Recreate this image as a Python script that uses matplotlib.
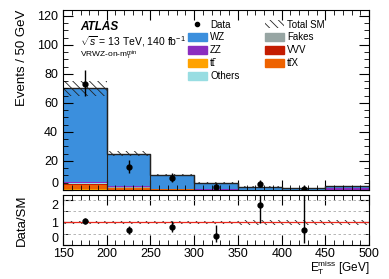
import matplotlib
matplotlib.use("Agg")
import matplotlib.pyplot as plt
import numpy as np
from matplotlib.patches import Patch
from matplotlib.lines import Line2D

plt.rcParams['font.family'] = ['Liberation Sans', 'DejaVu Sans']
plt.rcParams['mathtext.fontset'] = 'custom'
plt.rcParams['mathtext.rm'] = 'Liberation Sans'
plt.rcParams['mathtext.it'] = 'Liberation Sans:italic'
plt.rcParams['hatch.linewidth'] = 0.6

# binning (GeV)
bin_edges = [150, 200, 250, 300, 350, 400, 450, 500]
bin_centers = [175, 225, 275, 325, 375, 425, 475]

# stacked backgrounds, bottom to top
ttbar = [0.5, 0.2, 0.1, 0.05, 0.02, 0.02, 0.02]
ttX = [2.8, 1.2, 0.3, 0.1, 0.05, 0.03, 0.05]
vvv = [0.7, 0.3, 0.1, 0.05, 0.03, 0.02, 0.05]
fakes = [0.3, 0.4, 0.1, 0.05, 0.02, 0.02, 0.02]
others = [0.2, 0.1, 0.05, 0.05, 0.03, 0.03, 0.03]
zz = [0.7, 0.4, 0.2, 0.1, 0.05, 0.05, 0.9]
wz = [64.8, 22.4, 9.65, 4.6, 2.1, 1.05, 1.73]

# relative total SM uncertainty per bin
sm_rel_unc = [0.07, 0.07, 0.06, 0.07, 0.1, 0.1, 0.1]

# data (last bin empty)
data_x = [175, 225, 275, 325, 375, 425]
data_y = [73, 16, 8, 2, 4, 1]
data_err_lo = [8.5, 4.0, 2.8, 1.3, 1.9, 0.8]
data_err_hi = [9.6, 5.0, 3.9, 2.6, 3.2, 2.3]

ratio_y = [1.05, 0.64, 0.77, 0.40, 1.75, 0.67]
ratio_err_lo = [0.12, 0.14, 0.22, 0.25, 0.80, 0.57]
ratio_err_hi = [0.13, 0.18, 0.28, 0.50, 1.05, 1.90]

tt_lab = 'tt\u0304'
ttx_lab = 'tt\u0304X'
stack = [
    (ttbar, '#ffa200', tt_lab),
    (ttX, '#ee6200', ttx_lab),
    (vvv, '#c41c00', 'VVV'),
    (fakes, '#97a5a3', 'Fakes'),
    (others, '#98dde2', 'Others'),
    (zz, '#8b2dbf', 'ZZ'),
    (wz, '#3b8fdd', 'WZ'),
]

fig = plt.figure(figsize=(3.89, 2.79), dpi=100)
ax = fig.add_axes([0.162, 0.319, 0.787, 0.645])
rax = fig.add_axes([0.162, 0.122, 0.787, 0.179], sharex=ax)

edges = np.array(bin_edges, dtype=float)
bottom = np.zeros(len(bin_centers))
colors = {}
for vals, col, lab in stack:
    v = np.array(vals)
    ax.bar(bin_centers, v, width=50, bottom=bottom, color=col, edgecolor='none', linewidth=0)
    bottom = bottom + v
    colors[lab] = col
total = bottom

# total outline
ax.stairs(total, edges, color='#222222', linewidth=1.0, baseline=None)
for i in range(1, len(edges) - 1):
    ax.plot([edges[i], edges[i]], [0, max(total[i - 1], total[i])], color='#222222', lw=0.8)

# uncertainty band
unc = total * np.array(sm_rel_unc)
ax.stairs(total + unc, edges, baseline=total - unc, fill=True, facecolor='none',
          edgecolor='#222222', hatch='\\\\\\\\', linewidth=0)

ax.errorbar(data_x, data_y, yerr=[data_err_lo, data_err_hi], fmt='o', color='black',
            markersize=3.5, elinewidth=1.0, capsize=0)

ax.set_xlim(150, 500)
ax.set_ylim(0, 124)
ax.set_ylabel('Events / 50 GeV', fontsize=9.5, loc='top')
ax.set_yticks([0, 20, 40, 60, 80, 100, 120])
ax.set_yticks(np.arange(0, 124, 5), minor=True)
ax.set_xticks(np.arange(150, 501, 50))
ax.set_xticks(np.arange(150, 501, 10), minor=True)
ax.tick_params(axis='both', which='both', direction='in', top=True, right=True, labelsize=9)
ax.tick_params(which='major', length=7)
ax.tick_params(which='minor', length=3.5)
ax.tick_params(axis='x', labelbottom=False)

ax.text(0.055, 0.94, 'ATLAS', transform=ax.transAxes, fontsize=8.5, fontweight='bold',
        fontstyle='italic', va='top')
ax.text(0.055, 0.865, r'$\sqrt{s}$ = 13 TeV, 140 fb$^{-1}$', transform=ax.transAxes,
        fontsize=7.5, va='top')
ax.text(0.055, 0.785, r'VRWZ-on-m$_\mathrm{T}^\mathrm{min}$', transform=ax.transAxes,
        fontsize=6, va='top')

h_data = Line2D([], [], marker='o', color='black', markersize=3, linestyle='none')
h_sm = Patch(facecolor='none', edgecolor='#222222', hatch='\\\\\\\\', linewidth=0)
handles = [h_data, Patch(color=colors['WZ']), Patch(color=colors['ZZ']),
           Patch(color=colors[tt_lab]), Patch(color=colors['Others']),
           h_sm, Patch(color=colors['Fakes']), Patch(color=colors['VVV']),
           Patch(color=colors[ttx_lab]), Patch(color='none')]
labels = ['Data', 'WZ', 'ZZ', tt_lab, 'Others', 'Total SM', 'Fakes', 'VVV', ttx_lab, '']
ax.legend(handles, labels, ncol=2, fontsize=7, frameon=False, loc='upper left',
          bbox_to_anchor=(0.385, 0.985), handlelength=2.0, handleheight=0.85,
          labelspacing=0.3, columnspacing=2.6, handletextpad=0.3, borderpad=0.2)

# ratio panel
rax.stairs(1 + np.array(sm_rel_unc), edges, baseline=1 - np.array(sm_rel_unc), fill=True,
           facecolor='none', edgecolor='#222222', hatch='\\\\\\\\', linewidth=0)
rax.axhline(1, color='#e8281e', lw=0.9)
for yv in [0.5, 1.5, 2.0]:
    rax.axhline(yv, color='#aaaaaa', lw=0.6, linestyle=(0, (3, 3)))
rax.errorbar(data_x, ratio_y, yerr=[ratio_err_lo, ratio_err_hi], fmt='o', color='black',
             markersize=3.5, elinewidth=1.0, capsize=0)
rax.set_ylim(0, 2.2)
rax.set_yticks([0, 1, 2])
rax.set_yticks(np.arange(0, 2.2, 0.5), minor=True)
rax.set_xlim(150, 500)
rax.tick_params(axis='both', which='both', direction='in', top=True, right=True, labelsize=9)
rax.tick_params(which='major', length=7)
rax.tick_params(which='minor', length=3.5)
rax.tick_params(axis='x', pad=2)
rax.set_ylabel('Data/SM', fontsize=9.5)
rax.set_xlabel(r'E$_\mathrm{T}^\mathrm{miss}$ [GeV]', fontsize=8.5, loc='right', labelpad=-1)

ax.yaxis.set_label_coords(-0.115, 1.0)
rax.yaxis.set_label_coords(-0.115, 0.5)

# nudge crowded tick labels apart once all ticks exist
fig.canvas.draw()
ax.yaxis.get_major_ticks()[0].label1.set_va('bottom')
rax.yaxis.get_major_ticks()[0].label1.set_va('bottom')
rax.yaxis.get_major_ticks()[2].label1.set_va('top')

fig.savefig('out.png', dpi=100)
